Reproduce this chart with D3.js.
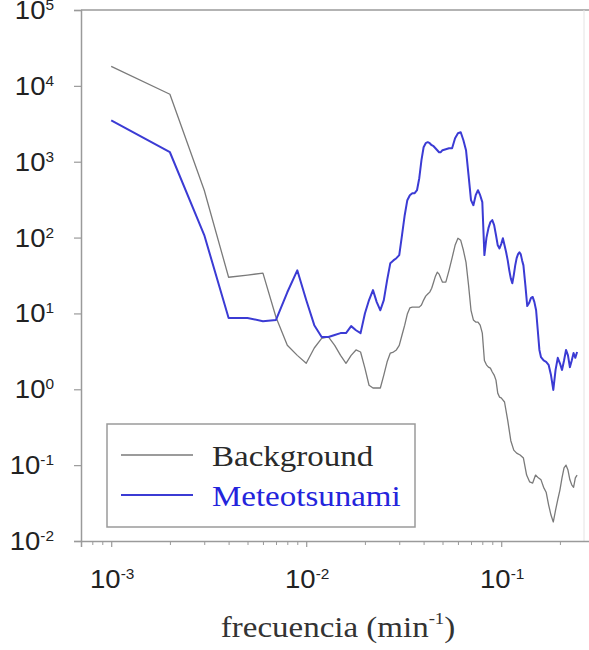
<!DOCTYPE html>
<html>
<head>
<meta charset="utf-8">
<script src="https://cdn.jsdelivr.net/npm/d3@7/dist/d3.min.js"></script>
<style>
  html, body { margin: 0; padding: 0; background: #fff; }
  svg { display: block; }
</style>
</head>
<body>
<svg id="chart" width="589" height="650"></svg>
<script>
// Spectral energy: background vs. meteotsunami event (frequency in min^-1)
const freqBackground = [
  0.001,0.002,0.003,0.004,0.005,0.006,0.007,0.008,0.009,0.010,
  0.011,0.012,0.013,0.014,0.015,0.016,0.017,0.018,0.019,0.020,
  0.021,0.022,0.023,0.024,0.025,0.026,0.027,0.028,0.029,0.030,
  0.031,0.032,0.033,0.034,0.035,0.036,0.037,0.038,0.039,0.040,
  0.041,0.042,0.043,0.044,0.045,0.046,0.047,0.048,0.049,0.050,
  0.052,0.054,0.056,0.058,0.060,0.062,0.064,0.066,0.068,0.070,
  0.072,0.074,0.076,0.078,0.080,0.082,0.084,0.086,0.088,0.090,
  0.092,0.094,0.096,0.098,0.100,
  0.104,0.108,0.112,0.116,0.120,
  0.125,0.130,0.135,0.140,0.145,0.150,0.155,0.160,0.165,0.170,
  0.175,0.180,0.185,0.190,0.195,0.200,0.205,0.210,0.215,0.220,
  0.225,0.230,0.235,0.240,0.245
];
const energyBackground = [
  18100,7750,420,30,32,34,8.9,3.8,2.8,2.2,
  3.5,4.7,4.9,3.8,2.8,2.2,2.8,3.3,3.1,1.9,
  1.13,1.04,1.04,1.04,1.54,2.3,3.0,3.1,3.3,3.8,
  5.2,7.0,9.8,11.8,12.1,12.1,12.1,12.1,12.9,15.0,
  16.9,18,19.1,21.5,25.8,31,35,33,29,25.8,
  25.8,37,54,79,98,92,68,47,23.6,11,
  8.2,7.7,7.7,7.0,5.5,2.4,2.1,1.96,1.9,1.69,
  1.54,1.32,0.89,0.79,0.77,
  0.68,0.39,0.21,0.158,0.144,
  0.136,0.124,0.074,0.060,0.058,0.074,0.068,0.064,0.051,0.044,
  0.030,0.022,0.0178,0.0256,0.035,0.047,0.068,0.092,0.100,0.086,
  0.064,0.055,0.051,0.068,0.074
];

const freqMeteotsunami = [
  0.001,0.002,0.003,0.004,0.005,0.006,0.007,0.008,0.009,0.010,
  0.011,0.012,0.013,0.014,0.015,0.016,0.017,0.018,0.019,0.020,
  0.021,0.022,0.023,0.024,0.025,0.026,0.027,0.028,0.029,0.030,
  0.031,0.032,0.033,0.034,0.035,0.036,0.037,0.038,0.039,0.040,
  0.041,0.042,0.043,0.044,0.045,0.046,0.047,0.048,0.049,0.050,
  0.052,0.054,0.056,0.058,0.060,0.062,0.064,0.066,0.068,0.070,
  0.072,0.074,0.076,0.078,0.080,0.082,0.084,0.086,0.088,0.090,
  0.092,0.094,0.096,0.098,0.100,0.102,0.104,0.106,0.108,0.110,
  0.112,0.114,0.116,0.118,0.120,0.122,0.124,0.126,0.128,0.130,
  0.133,0.136,0.139,0.142,0.145,0.148,0.151,0.154,0.157,
  0.160,0.165,0.170,0.175,0.180,0.185,0.190,0.195,0.200,0.205,
  0.210,0.215,0.220,0.225,0.230,0.235,0.240,0.245
];
const energyMeteotsunami = [
  3520,1333,108,8.7,8.7,7.9,8.2,19,37,15,
  7.0,4.9,4.9,5.2,5.5,5.5,6.8,6.0,5.5,10,
  15,20.3,14.1,11,15,27.5,46,50,53.5,58.7,
  108,197,311,362,385,385,421,606,1047,1553,
  1754,1807,1754,1650,1600,1507,1418,1334,1334,1418,
  1462,1507,1507,2042,2372,2447,1919,1418,664,311,
  267,362,421,362,293,58.7,99,133,160,170,
  146,108,79,72,82,98,79,64,50,37,
  29,25,32,43,53.5,60.5,64,60,50,43,
  23.6,12.5,13.7,15.9,16.5,14.1,11,6.0,3.3,
  2.65,2.4,2.3,2.1,1.54,0.98,1.8,2.6,2.2,1.8,
  2.4,3.3,2.8,1.96,2.4,3.0,2.6,3.1
];

const seriesNames = ["Background", "Meteotsunami"];
const seriesColors = ["#7a7a7a", "#3b3bd4"];
const yTickExponents = [5, 4, 3, 2, 1, 0, -1, -2];
const xTickExponents = [-3, -2, -1];
const xTitle = "frecuencia (min";
const xTitleSup = "-1";

const svg = d3.select("#chart");
const plot = { left: 81, top: 10, right: 584, bottom: 541 };

const x = d3.scaleLog().domain([0.0007, 0.3]).range([plot.left, plot.left + 195 * Math.log10(0.3 / 0.0007)]);
const y = d3.scaleLog().domain([1e-2, 1e5]).range([plot.bottom, plot.top]);

const axisColor = "#9a9a9a";
const sans = "'Liberation Sans', Arial, sans-serif";
const serif = "'Liberation Serif', 'Times New Roman', serif";
const stretch = 1.1;

// frame: top and right lines
svg.append("line").attr("x1", plot.left).attr("x2", 589).attr("y1", plot.top).attr("y2", plot.top)
  .attr("stroke", axisColor).attr("stroke-width", 1.5);
svg.append("line").attr("x1", plot.right).attr("x2", plot.right).attr("y1", plot.top).attr("y2", plot.bottom)
  .attr("stroke", "#e4e4e4").attr("stroke-width", 1);

// y axis (log, decades only)
const yAxis = d3.axisLeft(y).tickValues(yTickExponents.map(e => Math.pow(10, e))).tickSize(7).tickFormat("");
const gy = svg.append("g").attr("transform", `translate(${plot.left},0)`).call(yAxis);
gy.select(".domain").attr("stroke", axisColor).attr("stroke-width", 1.5);
gy.selectAll(".tick line").attr("stroke", axisColor).attr("stroke-width", 1.2);

yTickExponents.forEach(e => {
  const t = svg.append("text")
    .attr("transform", `translate(54,${y(Math.pow(10, e)) + 9}) scale(${stretch},1)`)
    .attr("text-anchor", "end")
    .attr("font-family", sans).attr("font-size", 25).attr("fill", "#222");
  t.append("tspan").text("10");
  t.append("tspan").attr("font-size", 14).attr("dy", -9).text(String(e));
});

// x axis (log): major decade ticks and minor ticks
const xMinor = [];
[0.0001, 0.001, 0.01, 0.1].forEach(d => { for (let k = 2; k <= 9; k++) xMinor.push(d * k); });
const xMinorIn = xMinor.filter(v => v >= 0.0007 && v <= 0.3);

const xAxisMinor = d3.axisBottom(x).tickValues(xMinorIn).tickSize(4).tickFormat("");
const gxm = svg.append("g").attr("transform", `translate(0,${plot.bottom})`).call(xAxisMinor);
gxm.select(".domain").remove();
gxm.selectAll(".tick line").attr("stroke", axisColor).attr("stroke-width", 1);

const xAxis = d3.axisBottom(x).tickValues(xTickExponents.map(e => Math.pow(10, e))).tickSize(6).tickFormat("");
const gx = svg.append("g").attr("transform", `translate(0,${plot.bottom})`).call(xAxis);
gx.select(".domain").attr("stroke", axisColor).attr("stroke-width", 1.5);
gx.selectAll(".tick line").attr("stroke", axisColor).attr("stroke-width", 1.2);

xTickExponents.forEach(e => {
  const t = svg.append("text")
    .attr("transform", `translate(${x(Math.pow(10, e)) + 1},588) scale(${stretch},1)`)
    .attr("text-anchor", "middle")
    .attr("font-family", sans).attr("font-size", 25).attr("fill", "#222");
  t.append("tspan").text("10");
  t.append("tspan").attr("font-size", 14).attr("dy", -9).text(String(e));
});

// x axis title
const title = svg.append("text")
  .attr("transform", `translate(338,637) scale(${stretch},1)`)
  .attr("text-anchor", "middle")
  .attr("font-family", serif).attr("font-size", 30).attr("fill", "#333");
title.append("tspan").text(xTitle);
title.append("tspan").attr("font-size", 17).attr("dy", -13).text(xTitleSup);
title.append("tspan").attr("dy", 13).text(")");

// spectra
const line = d3.line().x(d => x(d[0])).y(d => y(d[1]));
const series = [
  d3.zip(freqBackground, energyBackground),
  d3.zip(freqMeteotsunami, energyMeteotsunami)
];
const widths = [1.3, 2];
series.forEach((s, i) => {
  svg.append("path").datum(s)
    .attr("fill", "none")
    .attr("stroke", seriesColors[i])
    .attr("stroke-width", widths[i])
    .attr("stroke-linejoin", "round")
    .attr("d", line);
});

// legend
const legend = svg.append("g");
legend.append("rect").attr("x", 107).attr("y", 424).attr("width", 308).attr("height", 103)
  .attr("fill", "#fff").attr("stroke", axisColor).attr("stroke-width", 1.5);
const textColors = ["#2a2a2a", "#2424dc"];
seriesNames.forEach((name, i) => {
  const ly = 455 + i * 40;
  legend.append("line").attr("x1", 121).attr("x2", 193).attr("y1", ly).attr("y2", ly)
    .attr("stroke", seriesColors[i]).attr("stroke-width", widths[i]);
  legend.append("text")
    .attr("transform", `translate(212,${ly + 11}) scale(${stretch},1)`)
    .attr("font-family", serif).attr("font-size", 30).attr("fill", textColors[i])
    .text(name);
});
</script>
</body>
</html>
